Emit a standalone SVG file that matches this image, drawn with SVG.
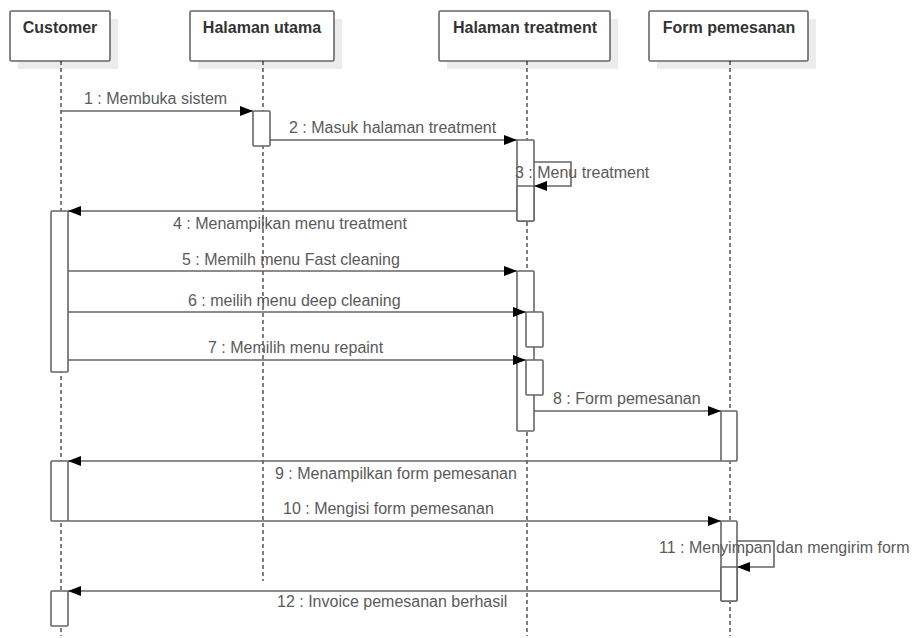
<svg xmlns="http://www.w3.org/2000/svg" width="917" height="638" viewBox="0 0 917 638">
<style>
.shadow{fill:#ececec;stroke:none}
.head{fill:#fff;stroke:#666;stroke-width:1.6}
.htext{font-family:"Liberation Sans",Arial,sans-serif;font-size:16px;font-weight:bold;fill:#333;text-anchor:middle}
.life{stroke:#000;stroke-width:1;stroke-dasharray:4 3;fill:none}
.act{fill:#fff;stroke:#666;stroke-width:1.6}
.msg{stroke:#666;stroke-width:1.6;fill:none;marker-end:url(#arr)}
.lbl{font-family:"Liberation Sans",Arial,sans-serif;font-size:16px;fill:#5a5a5a}
</style>
<defs>
<marker id="arr" markerUnits="userSpaceOnUse" markerWidth="13" markerHeight="10" refX="13" refY="5" orient="auto">
<path d="M0,0 L13,5 L0,10 z" fill="#000"/>
</marker>
</defs>
<rect width="917" height="638" fill="#fff"/>
<g id="customer">
<rect class="shadow" x="18" y="19" width="100" height="50"/>
<rect class="head" x="10" y="11" width="100" height="50" rx="1.5"/>
<text class="htext" x="60" y="33">Customer</text>
<line class="life" x1="61" y1="61" x2="61" y2="636"/>
<rect class="act" x="51" y="211" width="17" height="161" rx="1"/>
<rect class="act" x="51" y="461" width="17" height="60" rx="1"/>
<rect class="act" x="51" y="591" width="17" height="35" rx="1"/>
</g>
<g id="halaman-utama">
<rect class="shadow" x="198" y="19" width="144" height="50"/>
<rect class="head" x="190" y="11" width="144" height="50" rx="1.5"/>
<text class="htext" x="262" y="33">Halaman utama</text>
<line class="life" x1="263" y1="61" x2="263" y2="581"/>
<rect class="act" x="253" y="111" width="17" height="35" rx="1"/>
</g>
<g id="halaman-treatment">
<rect class="shadow" x="447" y="19" width="171" height="50"/>
<rect class="head" x="439" y="11" width="171" height="50" rx="1.5"/>
<text class="htext" x="525" y="33">Halaman treatment</text>
<line class="life" x1="527" y1="61" x2="527" y2="636"/>
<rect class="act" x="517" y="140" width="17" height="81" rx="1"/>
<rect class="act" x="517" y="186" width="17" height="35" rx="1"/>
<rect class="act" x="517" y="271" width="17" height="160" rx="1"/>
<rect class="act" x="526" y="312" width="17" height="35" rx="1"/>
<rect class="act" x="526" y="360" width="17" height="35" rx="1"/>
</g>
<g id="form-pemesanan">
<rect class="shadow" x="657" y="19" width="159" height="50"/>
<rect class="head" x="649" y="11" width="159" height="50" rx="1.5"/>
<text class="htext" x="729" y="33">Form pemesanan</text>
<line class="life" x1="730" y1="61" x2="730" y2="636"/>
<rect class="act" x="721" y="411" width="16" height="50" rx="1"/>
<rect class="act" x="721" y="521" width="16" height="80" rx="1"/>
<rect class="act" x="721" y="567" width="16" height="34" rx="1"/>
</g>
<g id="connectors">
<line class="msg" x1="61" y1="111" x2="253" y2="111"/>
<line class="msg" x1="270" y1="140" x2="517" y2="140"/>
<polyline class="msg" points="534,162 571,162 571,186 534,186"/>
<line class="msg" x1="517" y1="211" x2="68" y2="211"/>
<line class="msg" x1="68" y1="271" x2="517" y2="271"/>
<line class="msg" x1="68" y1="312" x2="526" y2="312"/>
<line class="msg" x1="68" y1="360" x2="526" y2="360"/>
<line class="msg" x1="534" y1="411" x2="721" y2="411"/>
<line class="msg" x1="721" y1="461" x2="68" y2="461"/>
<line class="msg" x1="68" y1="521" x2="721" y2="521"/>
<polyline class="msg" points="737,541 774,541 774,567 737,567"/>
<line class="msg" x1="721" y1="591" x2="68" y2="591"/>
<text class="lbl" x="84" y="104">1 : Membuka sistem</text>
<text class="lbl" x="289" y="133">2 : Masuk halaman treatment</text>
<text class="lbl" x="515" y="177.5">3 : Menu treatment</text>
<text class="lbl" x="173" y="228.5">4 : Menampilkan menu treatment</text>
<text class="lbl" x="182" y="264.5">5 : Memilh menu Fast cleaning</text>
<text class="lbl" x="188" y="305.5">6 : meilih menu deep cleaning</text>
<text class="lbl" x="208" y="353">7 : Memilih menu repaint</text>
<text class="lbl" x="553" y="403.5">8 : Form pemesanan</text>
<text class="lbl" x="275" y="478.5">9 : Menampilkan form pemesanan</text>
<text class="lbl" x="283" y="513.5">10 : Mengisi form pemesanan</text>
<text class="lbl" x="659" y="552.5">11 : Menyimpan dan mengirim form</text>
<text class="lbl" x="277" y="607">12 : Invoice pemesanan berhasil</text>
</g>
</svg>
